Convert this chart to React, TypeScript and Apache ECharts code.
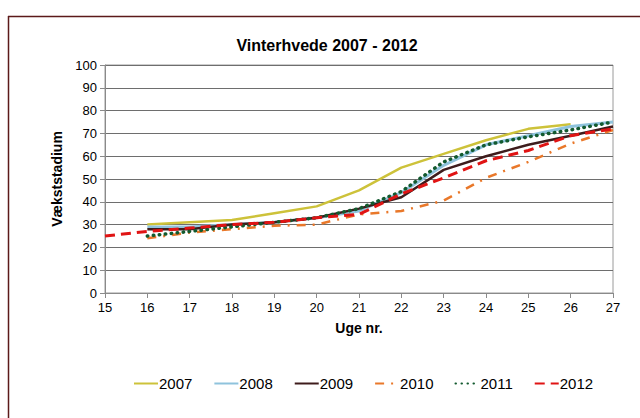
import React, { useEffect, useRef } from "react";
import * as echarts from "echarts";

const weeks = [15, 16, 17, 18, 19, 20, 21, 22, 23, 24, 25, 26, 27];
const s2007 = [null, 30, 31, 32, 35, 38, 45, 55, 61, 67, 72, 74, null];
const s2008 = [null, 29, 29, 30, 31, 33, 36, 44, 56, 65, 69, 73, 75];
const s2009 = [null, 28, 28, 30, 31, 33, 37, 42, 54, 60, 65, 69, 73];
const s2010 = [null, 24, 26.5, 28, 29.5, 30, 34.5, 36, 40.5, 50.5, 57.5, 65.5, 71.5];
const s2011 = [null, 25, 27, 29, 31, 33, 37, 44.5, 57.5, 65, 68.5, 71.5, 75];
const s2012 = [25, 27, 28.5, 30, 31, 33, 34.5, 43.5, 50.5, 58, 62.5, 69, 72];

const yTicks = [0, 10, 20, 30, 40, 50, 60, 70, 80, 90, 100];

const toPairs = (vals: (number | null)[]) =>
  weeks.map((w, i) => [w, vals[i]]).filter((p) => p[1] !== null);

export default function App() {
  const ref = useRef<HTMLDivElement>(null);
  useEffect(() => {
    if (!ref.current) return;
    const chart = echarts.init(ref.current, undefined, { renderer: "svg" });
    const font = "Liberation Sans, Arial, sans-serif";
    const mk = (name: string, vals: (number | null)[], color: string, type: any, width: number, cap = "butt") => ({
      name,
      type: "line",
      data: toPairs(vals),
      symbol: "none",
      showSymbol: false,
      smooth: false,
      lineStyle: { color, type, width, cap },
      itemStyle: { color },
    });
    chart.setOption({
      animation: false,
      backgroundColor: "#ffffff",
      title: {
        text: "Vinterhvede 2007 - 2012",
        left: 322,
        textAlign: "center",
        top: 32,
        textStyle: { fontFamily: font, fontSize: 16, fontWeight: "bold", color: "#000" },
      },
      graphic: [
        { type: "line", shape: { x1: 8, y1: 16.5, x2: 640, y2: 16.5 }, style: { stroke: "#5c1a1a", lineWidth: 1.5 } },
        { type: "line", shape: { x1: 8.5, y1: 16, x2: 8.5, y2: 418 }, style: { stroke: "#5c1a1a", lineWidth: 1.5 } },
      ],
      grid: {
        left: 105,
        right: 27,
        top: 65,
        bottom: 125,
        show: true,
        borderColor: "#9a9a9a",
        borderWidth: 1,
      },
      legend: {
        left: 128,
        top: 371,
        itemWidth: 24,
        itemHeight: 10,
        itemGap: 21,
        itemStyle: { opacity: 0 },
        textStyle: { fontFamily: font, fontSize: 15, color: "#000", padding: [0, 0, 0, -4] },
        data: ["2007", "2008", "2009", "2010", "2011", "2012"],
      },
      xAxis: {
        type: "value",
        min: 15,
        max: 27,
        interval: 1,
        name: "Uge nr.",
        nameLocation: "middle",
        nameGap: 28,
        nameTextStyle: { fontFamily: font, fontSize: 14, fontWeight: "bold", color: "#000" },
        axisLine: { show: true, lineStyle: { color: "#8a8a8a" } },
        axisTick: { show: true, length: 5, lineStyle: { color: "#8a8a8a" } },
        axisLabel: { fontFamily: font, fontSize: 13, color: "#000", margin: 8 },
        splitLine: { show: false },
      },
      yAxis: {
        type: "value",
        min: 0,
        max: 100,
        interval: 10,
        name: "Vækststadium",
        nameLocation: "middle",
        nameGap: 35,
        nameRotate: 90,
        nameTextStyle: { fontFamily: font, fontSize: 14, fontWeight: "bold", color: "#000" },
        axisLine: { show: true, lineStyle: { color: "#8a8a8a" } },
        axisTick: { show: true, length: 5, lineStyle: { color: "#8a8a8a" } },
        axisLabel: {
          fontFamily: font,
          fontSize: 13,
          color: "#000",
          margin: 8,
          formatter: (v: number) => (yTicks.includes(v) ? String(v) : ""),
        },
        splitLine: { show: true, lineStyle: { color: "#6e6e6e", width: 1 } },
      },
      series: [
        mk("2007", s2007, "#cdc23a", "solid", 2.5),
        mk("2008", s2008, "#8fc3dc", "solid", 3),
        mk("2009", s2009, "#3e1c1c", "solid", 2.5),
        mk("2010", s2010, "#e9782a", [9, 7, 2, 7], 2.5),
        mk("2011", s2011, "#135a2f", [0.5, 5.5], 3.5, "round"),
        mk("2012", s2012, "#e01414", [10, 6], 3),
      ],
    });
    return () => chart.dispose();
  }, []);
  return (
    <div
      ref={ref}
      style={{ position: "fixed", left: 0, top: 0, width: 640, height: 418 }}
    />
  );
}
